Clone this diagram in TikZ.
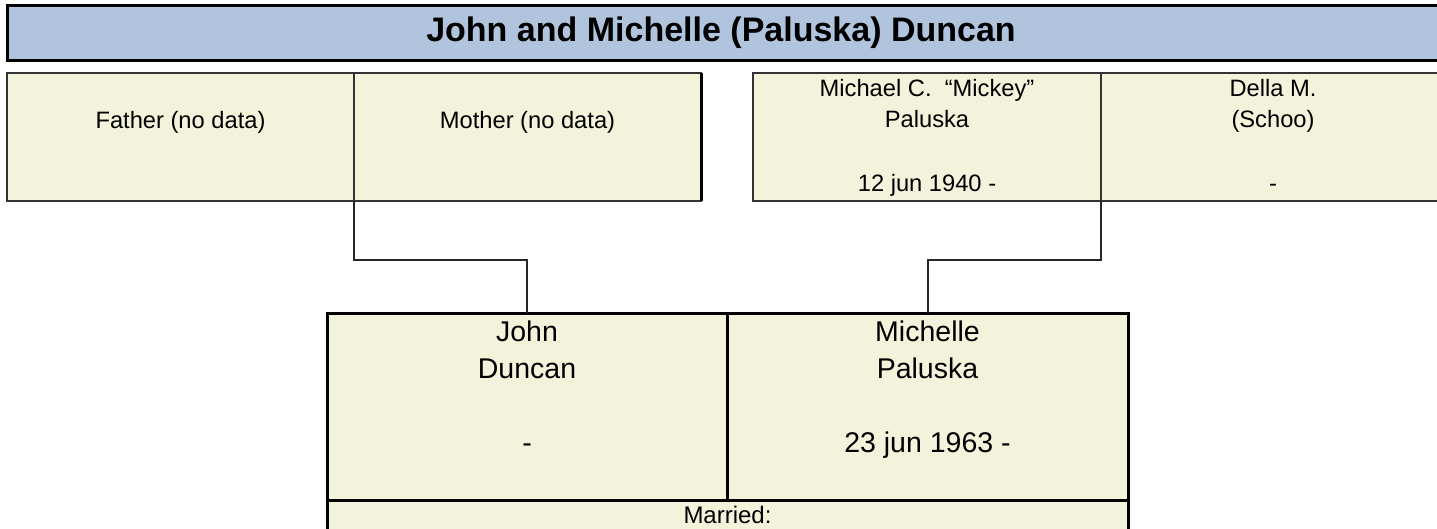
\documentclass[tikz,border=0pt]{standalone}
\usepackage{fontspec}
\setmainfont{Liberation Sans}
\begin{document}
\begin{tikzpicture}[x=1pt,y=-1pt,
  titlebox/.style={draw=black,line width=3pt,fill=titleblue,inner sep=0pt,outer sep=0pt,minimum width=1454pt,minimum height=55pt},
  parentbox/.style={draw=black!80,line width=1.6pt,fill=cream,inner sep=0pt,outer sep=0pt,minimum width=#1,minimum height=128pt},
  childbox/.style={draw=black,line width=3pt,fill=cream,inner sep=0pt,outer sep=0pt,minimum width=#1,minimum height=187pt},
  conn/.style={draw=black!85,line width=2pt},
  ptext/.style={anchor=base,inner sep=0pt,font=\fontsize{23.7}{28}\selectfont},
  ctext/.style={anchor=base,inner sep=0pt,font=\fontsize{28.5}{34}\selectfont},
  mtext/.style={anchor=base,inner sep=0pt,font=\fontsize{24}{28}\selectfont},
  ttext/.style={anchor=base,inner sep=0pt,font=\fontsize{34}{40}\selectfont\bfseries}
]
\definecolor{titleblue}{RGB}{176,196,222}
\definecolor{cream}{RGB}{243,243,220}
\path[use as bounding box,clip] (0,0) rectangle (1437,529);
\fill[white] (0,0) rectangle (1437,529);

% title
\node[titlebox] (title) at (734,33.5) {};
\node[ttext] (titleT) at (721,42) {John and Michelle (Paluska) Duncan};

% parents
\node[parentbox=347pt] (father) at (180.5,137) {};
\node[parentbox=347pt] (mother) at (527.5,137) {};
\draw[black,line width=3pt] (mother.north east) -- (mother.south east);
\node[parentbox=348pt] (michael) at (927,137) {};
\node[parentbox=360pt] (della) at (1281,137) {};

\node[ptext] (fatherT) at (180.5,129) {Father (no data)};
\node[ptext] (motherT) at (527.5,129) {Mother (no data)};
\node[ptext] (michaelA) at (927,97) {Michael C.\ \ “Mickey”};
\node[ptext] (michaelB) at (927,128) {Paluska};
\node[ptext] (michaelC) at (927,192) {12 jun 1940 -};
\node[ptext] (dellaA) at (1273,97) {Della M.};
\node[ptext] (dellaB) at (1273,128) {(Schoo)};
\node[ptext] (dellaC) at (1273,192) {-};

% couple
\node[childbox=400pt] (john) at (527,406.5) {};
\node[childbox=401pt] (michelle) at (927.5,406.5) {};
\node[draw=black,line width=3pt,fill=cream,inner sep=0pt,outer sep=0pt,minimum width=801pt,minimum height=60pt] (married) at (727.5,530) {};

\node[ctext] (johnA) at (527,341) {John};
\node[ctext] (johnB) at (527,378) {Duncan};
\node[ctext] (johnC) at (527,452) {-};
\node[ctext] (michelleA) at (927.5,341) {Michelle};
\node[ctext] (michelleB) at (927.5,378) {Paluska};
\node[ctext] (michelleC) at (927.5,452) {23 jun 1963 -};
\node[mtext] (marriedT) at (727.5,523) {Married:};

% connectors
\draw[conn] (mother.south west) -- ++(0,59) -| (john.north);
\draw[conn] (michael.south east) -- ++(0,59) -| (michelle.north);
\end{tikzpicture}
\end{document}
